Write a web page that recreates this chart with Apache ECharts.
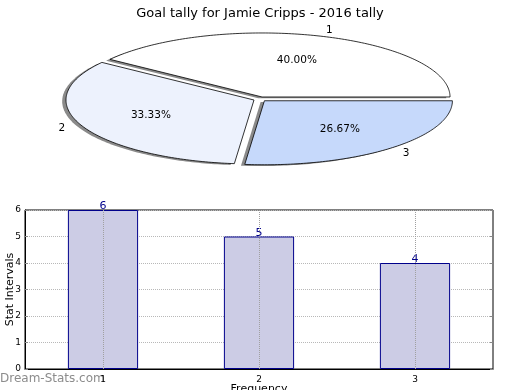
<!DOCTYPE html>
<html>
<head>
<meta charset="utf-8">
<script src="https://cdn.jsdelivr.net/npm/echarts@6/dist/echarts.min.js"></script>
<style>
html,body{margin:0;padding:0;background:#fff;}
#c{width:520px;height:390px;}
</style>
</head>
<body>
<div id="c"></div>
<script>
const titleText = 'Goal tally for Jamie Cripps - 2016 tally';
const pieLabels = ['1', '2', '3'];
const pieValues = [6, 5, 4];
const pieColors = ['#ffffff', '#edf2fd', '#c6d9fb'];
const barCategories = ['1', '2', '3'];
const barValues = [6, 5, 4];
const yAxisName = 'Stat Intervals';
const xAxisName = 'Frequency';
const watermark = 'Dream-Stats.com';

const FONT = 'DejaVu Sans';
const pieTotal = pieValues.reduce((a, b) => a + b, 0);

function sliceGeom(i) {
  const cx = 260, cy = 99.1, rx = 188, ry = 64, ex = 0.035;
  let before = 0;
  for (let k = 0; k < i; k++) before += pieValues[k];
  const a0 = before / pieTotal * 360;
  const a1 = (before + pieValues[i]) / pieTotal * 360;
  const mid = (a0 + a1) / 2 * Math.PI / 180;
  const ox = cx + ex * rx * Math.cos(mid);
  const oy = cy - ex * ry * Math.sin(mid);
  const pts = [[ox, oy]];
  const steps = Math.max(8, Math.ceil(a1 - a0));
  for (let s = 0; s <= steps; s++) {
    const a = (a0 + (a1 - a0) * s / steps) * Math.PI / 180;
    pts.push([ox + rx * Math.cos(a), oy - ry * Math.sin(a)]);
  }
  return { pts, ox, oy, mid, rx, ry };
}

const pieData = pieValues.map((v, i) => ({ value: [i, v], name: pieLabels[i] }));

const chart = echarts.init(document.getElementById('c'), null, { renderer: 'canvas' });
chart.setOption({
  animation: false,
  backgroundColor: '#fff',
  title: {
    text: titleText, left: 'center', top: 2,
    textStyle: { fontSize: 13, fontWeight: 'normal', color: '#000', fontFamily: FONT }
  },
  graphic: [{
    type: 'text', left: 0, top: 373,
    style: { text: watermark, fontSize: 12, fontFamily: FONT, fill: '#8c8c8c' }
  }],
  grid: {
    left: 25, right: 27, top: 210, bottom: 21,
    containLabel: false, outerBoundsMode: 'none',
    show: true, borderColor: '#000', borderWidth: 1, backgroundColor: 'transparent'
  },
  xAxis: {
    type: 'category', data: barCategories,
    axisLine: { lineStyle: { color: '#000', width: 1 } },
    axisTick: { show: false },
    axisLabel: { fontSize: 9, color: '#000', fontFamily: FONT, margin: 6 },
    splitLine: { show: false },
    name: xAxisName, nameLocation: 'middle', nameGap: 15, nameMoveOverlap: false,
    nameTextStyle: { fontSize: 11, color: '#000', fontFamily: FONT }
  },
  yAxis: [{
    type: 'value', min: 0, max: 6, interval: 1,
    axisLine: { show: true, lineStyle: { color: '#000', width: 1 } },
    axisTick: { show: true, inside: true, length: 3, lineStyle: { color: '#888' } },
    axisLabel: { fontSize: 9, color: '#000', fontFamily: FONT, margin: 4 },
    splitLine: { show: true, lineStyle: { type: 'dotted', color: '#b8b8b8', width: 1 } },
    name: yAxisName, nameLocation: 'middle', nameGap: 9, nameMoveOverlap: false,
    nameTextStyle: { fontSize: 11, color: '#000', fontFamily: FONT }
  }, {
    type: 'value', min: 0, max: 6, interval: 1, position: 'right',
    axisLine: { show: false },
    axisTick: { show: true, inside: true, length: 3, lineStyle: { color: '#888' } },
    axisLabel: { show: false },
    splitLine: { show: false }
  }],
  series: [
    {
      type: 'custom', coordinateSystem: 'none', z: 1, silent: true,
      data: pieData,
      renderItem: function (params, api) {
        const i = api.value(0);
        const g = sliceGeom(i);
        const sx = -3.8, sy = 1.3;
        return {
          type: 'polygon',
          shape: { points: g.pts.map(p => [p[0] + sx, p[1] + sy]) },
          style: { fill: '#8a8a8a', stroke: null }
        };
      }
    },
    {
      type: 'custom', coordinateSystem: 'none', z: 2, silent: true,
      data: pieData,
      renderItem: function (params, api) {
        const i = api.value(0);
        const v = api.value(1);
        const g = sliceGeom(i);
        const lx = g.ox + 1.1 * g.rx * Math.cos(g.mid);
        const ly = g.oy - 1.1 * g.ry * Math.sin(g.mid);
        const px = g.ox + 0.6 * g.rx * Math.cos(g.mid);
        const py = g.oy - 0.6 * g.ry * Math.sin(g.mid);
        return {
          type: 'group',
          children: [
            {
              type: 'polygon',
              shape: { points: g.pts },
              style: { fill: pieColors[i], stroke: '#000', lineWidth: 0.8 }
            },
            {
              type: 'text', x: lx, y: ly,
              style: {
                text: pieLabels[i], fontSize: 10.5, fontFamily: FONT, fill: '#000',
                align: Math.cos(g.mid) > 0 ? 'left' : 'right', verticalAlign: 'middle'
              }
            },
            {
              type: 'text', x: px, y: py,
              style: {
                text: (v / pieTotal * 100).toFixed(2) + '%', fontSize: 10.5, fontFamily: FONT, fill: '#000',
                align: 'center', verticalAlign: 'middle'
              }
            }
          ]
        };
      }
    },
    {
      type: 'bar', data: barValues, barWidth: '45%', z: 3,
      itemStyle: { color: '#ccccE5', borderColor: '#00008b', borderWidth: 1 },
      label: { show: true, position: 'top', distance: -2, fontSize: 11, color: '#00008b', fontFamily: FONT },
      markLine: {
        silent: true, symbol: 'none', animation: false,
        label: { show: false },
        lineStyle: { type: 'dotted', color: '#a0a0a0', width: 1 },
        data: barCategories.map(c => ({ xAxis: c }))
      }
    }
  ]
});
</script>
</body>
</html>
